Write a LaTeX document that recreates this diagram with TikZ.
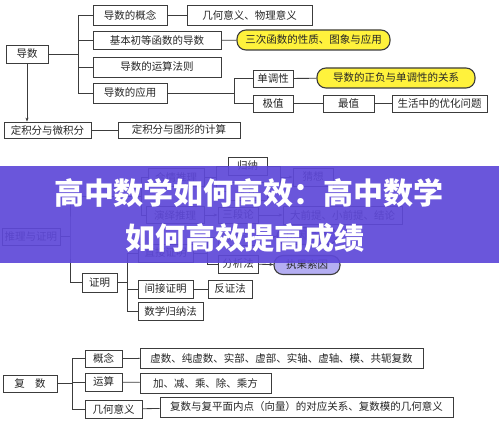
\documentclass[tikz,border=0pt]{standalone}
\usepackage{fontspec}
\newfontfamily\cjk{Noto Sans CJK SC}
\usepackage{xcolor}
\usepackage{tikz}
\usetikzlibrary{arrows.meta,positioning}

\definecolor{linegray}{HTML}{3C3C3C}
\definecolor{padyellow}{HTML}{FFF23C}
\definecolor{padlilac}{HTML}{B4AEF2}
\definecolor{bandpurple}{HTML}{5E48D8}

\begin{document}
\begin{tikzpicture}[
  x=1pt, y=-1pt,
  every node/.style={font=\cjk\fontsize{10.5}{11}\selectfont, text=black!85},
  box/.style={draw=linegray, line width=0.8pt, fill=white, inner sep=1pt,
    minimum height=18pt},
  pill/.style={box, rounded corners=9pt, line width=1.1pt, fill=padyellow},
  link/.style={draw=linegray, line width=0.8pt},
  arr/.style={link, -{Stealth[length=4pt,width=3pt]}}]
\useasboundingbox (0,0) rectangle (499,430);
\fill[white] (0,0) rectangle (499,430);

% derivative branch
\node[box, minimum width=42pt] (dao) at (27,54) {导数};
\node[box, minimum width=74pt, minimum height=20pt] (gn) at (130,15) {导数的概念};
\node[box, minimum width=128pt] (jb) at (157,40.5) {基本初等函数的导数};
\node[box, minimum width=128pt, minimum height=20pt] (ys) at (157,67) {导数的运算法则};
\node[box, minimum width=74pt, minimum height=20pt] (yy) at (130,93) {导数的应用};
\node[box, minimum width=125pt, minimum height=20pt] (jh) at (249.5,15) {几何意义、物理意义};
\node[pill, minimum width=153pt, minimum height=20pt] (sc) at (313.5,40) {三次函数的性质、图象与应用};
\node[box, minimum width=40pt, minimum height=17pt] (dd) at (273,78.5) {单调性};
\node[box, minimum width=40pt, minimum height=17pt] (jz) at (273,103.5) {极值};
\node[pill, minimum width=158pt, minimum height=20pt] (zf) at (396,78) {导数的正负与单调性的关系};
\node[box, minimum width=51pt, minimum height=17pt] (zz) at (348.5,103.5) {最值};
\node[box, minimum width=95pt, minimum height=17pt] (sh) at (439.5,103.5) {生活中的优化问题};
\node[box, minimum width=87pt, minimum height=16pt] (dj) at (47.5,130) {定积分与微积分};
\node[box, minimum width=122pt, minimum height=16pt] (tx) at (179,130) {定积分与图形的计算};

\coordinate (t1) at (78,54);
\coordinate (t2) at (234,93);
\draw[link] (dao) -- (t1);
\foreach \n in {gn,jb,ys,yy} \draw[link] (t1) |- (\n.west);
\draw[link] (gn) -- (jh);
\draw[link] (jb) -- (sc);
\draw[link] (yy) -- (t2);
\foreach \n in {dd,jz} \draw[link] (t2) |- (\n.west);
\draw[link] (dd) -- (zf);
\draw[link] (jz) -- (zz);
\draw[link] (zz) -- (sh);
\draw[arr] (dao.south) -- (dao.south |- dj.north);
\draw[link] (dj) -- (tx);

% reasoning and proof branch
\node[box, minimum width=58pt, minimum height=17pt] (tl) at (31,236.5) {推理与证明};
\node[box, minimum width=56pt] (hq) at (176,177.5) {合情推理};
\node[box, minimum width=58pt, minimum height=17pt] (yj) at (175,215) {演绎推理};
\node[box, minimum width=39pt] (gl) at (247.5,166) {归纳};
\node[box, minimum width=39pt] (lb) at (247.5,191) {类比};
\node[box, minimum width=40pt] (cx) at (313,177) {猜想};
\node[box, minimum width=40pt, minimum height=16pt] (sd) at (238,215) {三段论};
\node[box, minimum width=119pt] (dq) at (342.5,215) {大前提、小前提、结论};
\node[box, minimum width=35pt, minimum height=19pt] (zm) at (99.5,282.5) {证明};
\node[box, minimum width=55pt] (zj) at (165.5,253) {直接证明};
\node[box, minimum width=39pt, minimum height=16pt] (zh) at (237.5,237.5) {综合法};
\node[pill, fill=padlilac, minimum width=60pt, minimum height=17pt] (yg) at (307,236) {由因导果};
\node[box, minimum width=40pt] (fx) at (238,264) {分析法};
\node[pill, fill=padlilac, minimum width=66pt, minimum height=19pt] (zg) at (307,265) {执果索因};
\node[box, minimum width=55pt] (jj) at (165.5,289) {间接证明};
\node[box, minimum width=65pt] (sx) at (170.5,311) {数学归纳法};
\node[box, minimum width=44pt] (fz) at (230,289) {反证法};

\coordinate (t3) at (70,236.5);
\coordinate (t4) at (70,196);
\coordinate (t5) at (141,196);
\coordinate (t6) at (216,177.5);
\coordinate (t7) at (280,177);
\coordinate (t8) at (127,282.5);
\coordinate (t9) at (207,253);
\draw[link] (tl) -- (t3);
\draw[link] (t4) -- (t3) |- (zm.west);
\draw[link] (t4) -- (t5);
\foreach \n in {hq,yj} \draw[link] (t5) |- (\n.west);
\draw[link] (hq) -- (t6);
\foreach \n in {gl,lb} \draw[link] (t6) |- (\n.west);
\foreach \n in {gl,lb} \draw[link] (\n.east) -| (t7);
\draw[arr] (t7) -- (cx);
\draw[arr] (yj) -- (sd);
\draw[arr] (sd) -- (dq);
\draw[link] (zm) -- (t8);
\foreach \n in {zj,jj,sx} \draw[link] (t8) |- (\n.west);
\draw[link] (zj) -- (t9);
\foreach \n in {zh,fx} \draw[link] (t9) |- (\n.west);
\draw[arr] (zh) -- (yg);
\draw[arr] (fx) -- (zg);
\draw[link] (jj) -- (fz);

% complex number branch
\node[box, minimum width=54pt, minimum height=17pt] (fs) at (30,383.5) {复\quad 数};
\node[box, minimum width=37pt, minimum height=17pt] (gn3) at (103.5,358.5) {概念};
\node[box, minimum width=37pt] (ys3) at (103.5,382) {运算};
\node[box, minimum width=57pt] (jy) at (113.5,409) {几何意义};
\node[box, minimum width=283pt, minimum height=20pt] (xs) at (281.5,358) {虚数、纯虚数、实部、虚部、实轴、虚轴、模、共轭复数};
\node[box, minimum width=131pt, minimum height=20pt] (jc) at (205.5,383) {加、减、乘、除、乘方};
\node[box, minimum width=293pt, minimum height=20pt] (fp) at (306.5,407) {复数与复平面内点（向量）的对应关系、复数模的几何意义};

\coordinate (t10) at (72,383.5);
\draw[link] (fs) -- (t10);
\foreach \n in {gn3,ys3,jy} \draw[link] (t10) |- (\n.west);
\draw[link] (gn3) -- (xs);
\draw[link] (ys3) -- (jc);
\draw[link] (jy) -- (fp);

% title band
\fill[bandpurple, opacity=0.92] (0,166) rectangle (499,263);
\node[font=\cjk\bfseries\fontsize{30}{31}\selectfont, text=white] (ttl1) at (249,193) {高中数学如何高效：高中数学};
\node[font=\cjk\bfseries\fontsize{30}{31}\selectfont, text=white] (ttl2) at (245,238) {如何高效提高成绩};
\end{tikzpicture}
\end{document}
